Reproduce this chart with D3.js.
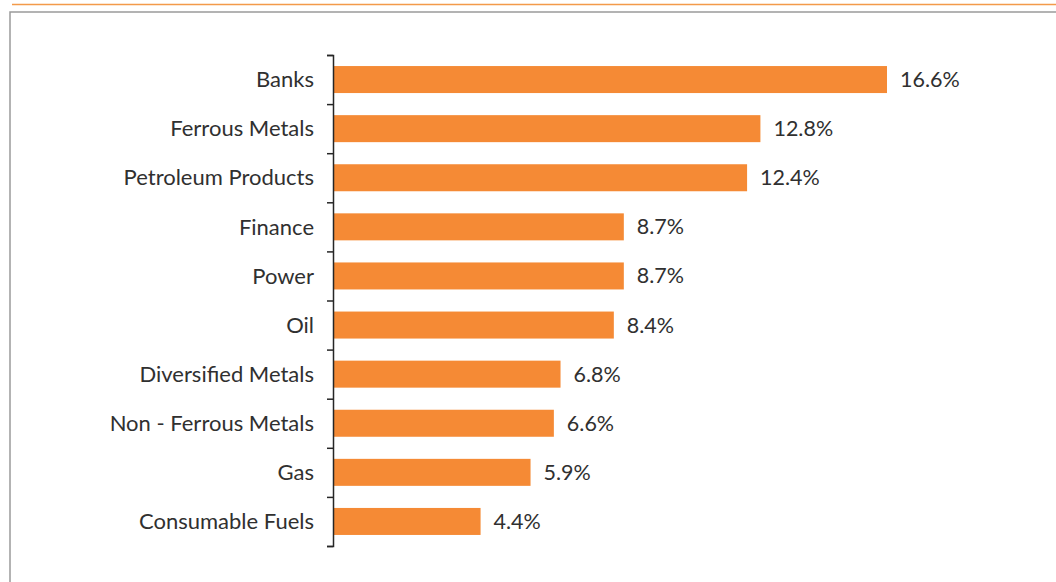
<!DOCTYPE html>
<html>
<head>
<meta charset="utf-8">
<script src="https://cdn.jsdelivr.net/npm/d3@7"></script>
<style>
  body { margin: 0; background: #fff; }
  svg { display: block; }
</style>
</head>
<body>
<div id="chart"></div>
<script>
const categories = ["Banks", "Ferrous Metals", "Petroleum Products", "Finance", "Power",
    "Oil", "Diversified Metals", "Non - Ferrous Metals", "Gas", "Consumable Fuels"];
const values = [16.6, 12.8, 12.4, 8.7, 8.7, 8.4, 6.8, 6.6, 5.9, 4.4];
const valueLabels = ["16.6%", "12.8%", "12.4%", "8.7%", "8.7%", "8.4%", "6.8%", "6.6%", "5.9%", "4.4%"];

(function() {
    const width = 1056;
    const height = 582;

    const svg = d3.select("#chart")
        .append("svg")
        .attr("width", width)
        .attr("height", height)
        .attr("viewBox", [0, 0, width, height]);

    // orange rule on top and grey frame
    svg.append("line")
        .attr("x1", 12).attr("x2", width)
        .attr("y1", 4.5).attr("y2", 4.5)
        .attr("stroke", "#f39a4a")
        .attr("stroke-width", 1.5);

    svg.append("rect")
        .attr("x", 10).attr("y", 12)
        .attr("width", width + 20).attr("height", height + 20)
        .attr("fill", "none")
        .attr("stroke", "#9a9a9a")
        .attr("stroke-width", 1.5);

    const axisX = 333;
    const top = 55, bottom = 546;

    const x = d3.scaleLinear()
        .domain([0, 16.6])
        .range([axisX + 1, 887]);

    const y = d3.scaleBand()
        .domain(categories)
        .range([top, bottom])
        .padding(0);

    // boundaries for the ticks (between categories)
    const yEdge = d3.scaleLinear()
        .domain([0, categories.length])
        .range([top, bottom]);

    const axis = d3.axisLeft(yEdge)
        .tickValues(d3.range(categories.length + 1))
        .tickFormat("")
        .tickSizeInner(6)
        .tickSizeOuter(6);

    const barPad = 0.225;
    const font = "Lato, 'Liberation Sans', sans-serif";

    svg.append("g")
        .selectAll("rect")
        .data(values)
        .join("rect")
        .attr("x", x(0))
        .attr("y", (d, i) => y(categories[i]) + y.step() * barPad)
        .attr("width", d => x(d) - x(0))
        .attr("height", y.step() * (1 - 2 * barPad))
        .attr("fill", "#f58a35");

    svg.append("g")
        .attr("transform", `translate(${axisX},0)`)
        .call(axis)
        .call(g => g.selectAll("path, line").attr("stroke", "#262626").attr("stroke-width", 1.5));

    svg.append("g")
        .selectAll("text")
        .data(categories)
        .join("text")
        .attr("x", axisX - 19)
        .attr("y", d => y(d) + y.bandwidth() / 2)
        .attr("dy", "0.35em")
        .attr("text-anchor", "end")
        .style("font-family", font)
        .style("font-size", "22px")
        .style("fill", "#303030")
        .text(d => d);

    svg.append("g")
        .selectAll("text")
        .data(values)
        .join("text")
        .attr("x", d => x(d) + 13)
        .attr("y", (d, i) => y(categories[i]) + y.bandwidth() / 2)
        .attr("dy", "0.35em")
        .style("font-family", font)
        .style("font-size", "21.5px")
        .style("fill", "#303030")
        .text((d, i) => valueLabels[i]);
})();
</script>
</body>
</html>
